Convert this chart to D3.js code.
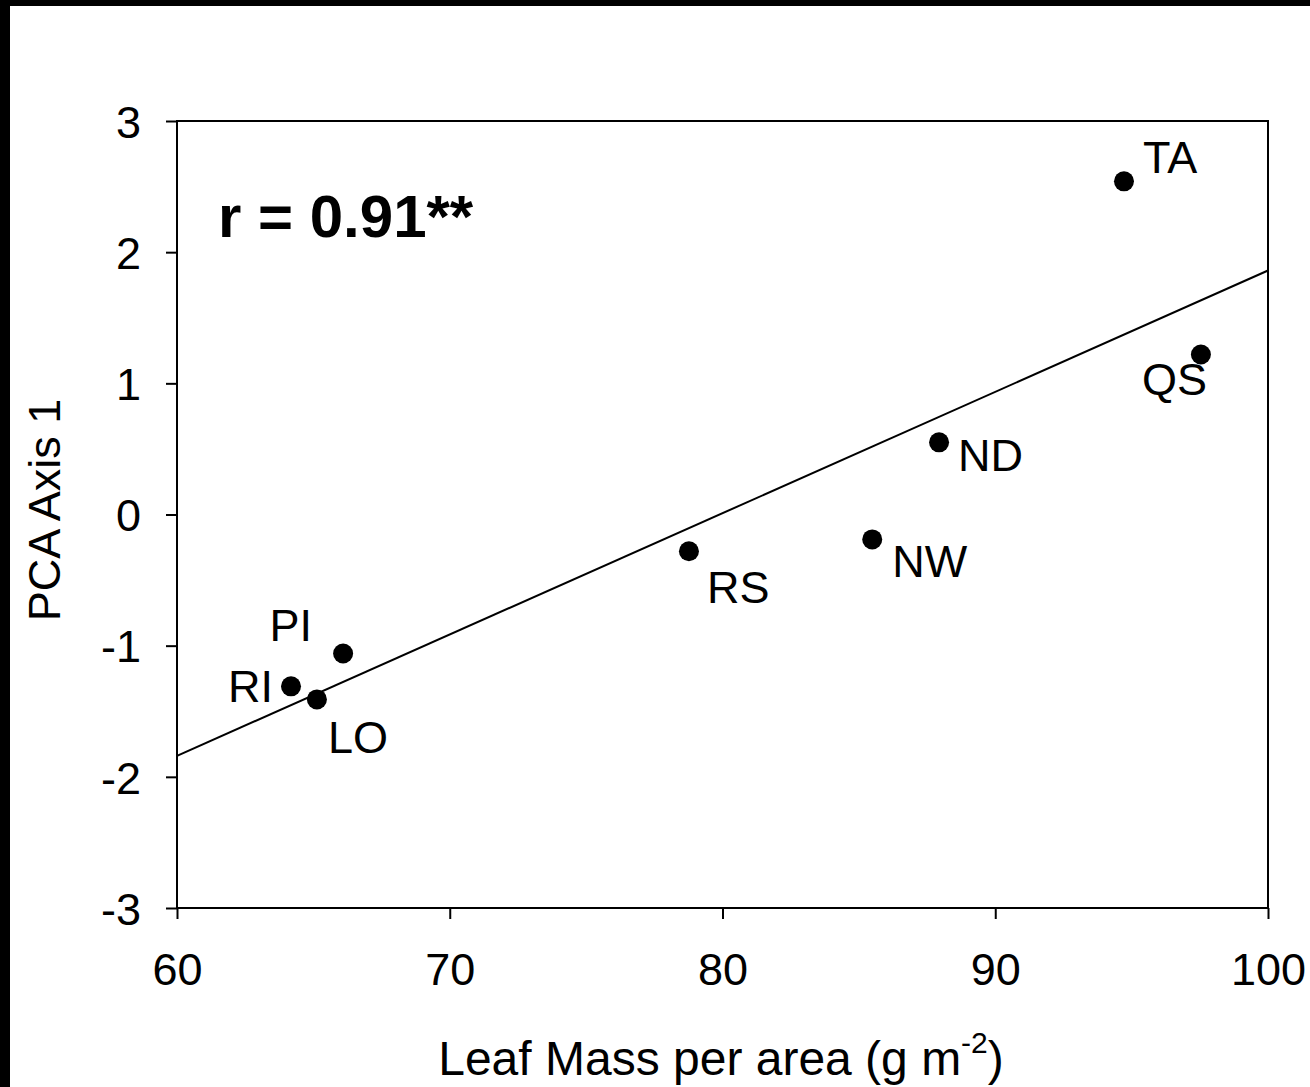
<!DOCTYPE html>
<html>
<head>
<meta charset="utf-8">
<script src="https://cdn.jsdelivr.net/npm/d3@7"></script>
<style>
  body { margin: 0; background: #fff; }
  svg { display: block; font-family: "Liberation Sans", Arial, sans-serif; }
</style>
</head>
<body>
<div class="chart"></div>
<script>
// sites and values
const sites = ['TA', 'QS', 'ND', 'NW', 'RS', 'PI', 'RI', 'LO'];
const lma = [94.72, 97.54, 87.94, 85.49, 78.77, 66.09, 64.18, 65.13];
const pca = [2.54, 1.22, 0.55, -0.19, -0.28, -1.06, -1.31, -1.41];
// regression line ends
const fitX = [60, 100];
const fitY = [-1.84, 1.86];
const xTicks = [60, 70, 80, 90, 100];
const yTicks = [-3, -2, -1, 0, 1, 2, 3];

const width = 1310, height = 1087;
const margin = { top: 121, right: 42, bottom: 179, left: 177 };

const svg = d3.select('.chart').append('svg')
  .attr('width', width).attr('height', height);

// black strips at the top and left edge (cropped frame)
svg.append('rect').attr('x', 0).attr('y', 0).attr('width', width).attr('height', 6).attr('fill', '#000');
svg.append('rect').attr('x', 0).attr('y', 0).attr('width', 10).attr('height', height).attr('fill', '#000');

const x = d3.scaleLinear().domain([60, 100]).range([margin.left, width - margin.right]);
const y = d3.scaleLinear().domain([-3, 3]).range([height - margin.bottom, margin.top]);

// frame
svg.append('rect')
  .attr('x', x(60)).attr('y', y(3))
  .attr('width', x(100) - x(60)).attr('height', y(-3) - y(3))
  .attr('fill', 'none').attr('stroke', '#000').attr('stroke-width', 2);

const xAxis = d3.axisBottom(x).tickValues(xTicks).tickFormat(d => String(d))
  .tickSize(11).tickPadding(34).tickSizeOuter(0);
const yAxis = d3.axisLeft(y).tickValues(yTicks).tickFormat(d => String(d))
  .tickSize(11).tickPadding(25).tickSizeOuter(0);

const gx = svg.append('g').attr('transform', `translate(0,${y(-3)})`).call(xAxis);
const gy = svg.append('g').attr('transform', `translate(${x(60)},0)`).call(yAxis);
[gx, gy].forEach(g => {
  g.select('.domain').remove();
  g.selectAll('line').attr('stroke', '#000').attr('stroke-width', 2);
  g.selectAll('text').attr('fill', '#000').style('font-size', '45px')
    .style('font-family', '"Liberation Sans", Arial, sans-serif');
});
gy.selectAll('text').attr('dy', '0.36em');
gx.selectAll('text').attr('dy', '0.71em');

// regression line
svg.append('line')
  .attr('x1', x(fitX[0])).attr('y1', y(fitY[0]))
  .attr('x2', x(fitX[1])).attr('y2', y(fitY[1]))
  .attr('stroke', '#000').attr('stroke-width', 2);

const points = sites.map((s, i) => ({ site: s, lma: lma[i], pca: pca[i] }));

svg.selectAll('.dot').data(points).enter()
  .append('circle').attr('class', 'dot')
  .attr('cx', d => x(d.lma)).attr('cy', d => y(d.pca))
  .attr('r', 10).attr('fill', '#000');

// where each label sits relative to its point
const labelPos = {
  TA: [19, -8, 'start'], QS: [-59, 41, 'start'], ND: [19, 29, 'start'], NW: [20, 38, 'start'],
  RS: [18, 52, 'start'], PI: [-31, -13, 'end'], RI: [-18, 16, 'end'], LO: [11, 54, 'start']
};
svg.selectAll('.lbl').data(points).enter()
  .append('text').attr('class', 'lbl')
  .attr('x', d => x(d.lma) + labelPos[d.site][0])
  .attr('y', d => y(d.pca) + labelPos[d.site][1])
  .attr('text-anchor', d => labelPos[d.site][2])
  .style('font-size', '45px')
  .text(d => d.site);

// r annotation
svg.append('text')
  .attr('x', 218).attr('y', 237)
  .style('font-size', '60px').style('font-weight', 'bold')
  .text('r = 0.91**');

// axis titles
const xt = svg.append('text')
  .attr('x', 721).attr('y', 1075)
  .attr('text-anchor', 'middle')
  .style('font-size', '48px');
xt.append('tspan').text('Leaf Mass per area (g m');
xt.append('tspan').attr('dy', -22).style('font-size', '30px').text('-2');
xt.append('tspan').attr('dy', 22).text(')');

svg.append('text')
  .attr('transform', `translate(60,${510}) rotate(-90)`)
  .attr('text-anchor', 'middle')
  .style('font-size', '45px')
  .text('PCA Axis 1');
</script>
</body>
</html>
